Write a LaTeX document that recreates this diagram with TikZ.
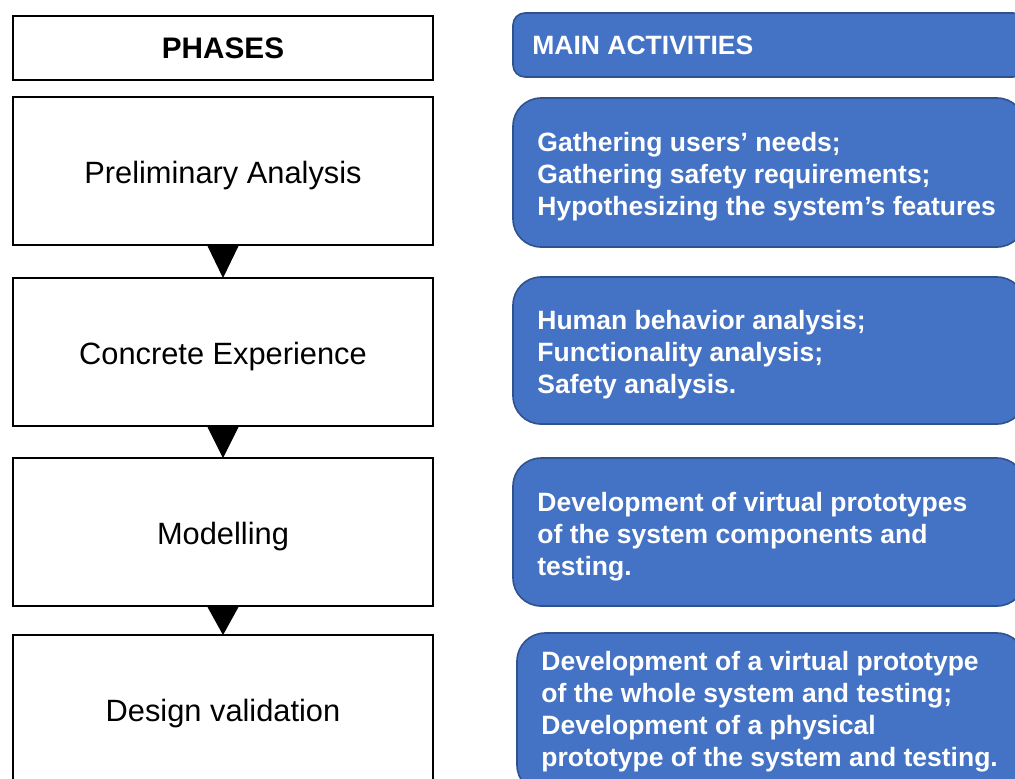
\documentclass[tikz,border=0pt]{standalone}
\usepackage{fontspec}
\setmainfont{Liberation Sans}
\usetikzlibrary{calc}
\definecolor{actfill}{HTML}{4472C4}
\definecolor{actedge}{HTML}{2F528F}
\begin{document}
\begin{tikzpicture}[x=0.5pt,y=-0.5pt,
  phasebox/.style={draw=black,line width=1pt,fill=white,minimum width=210pt,
    inner sep=0pt,outer sep=0pt,font=\fontsize{15.4}{18}\selectfont},
  stepbox/.style={phasebox,minimum height=74pt,text height=15.2pt,text depth=3.2pt},
  actbox/.style={draw=actedge,line width=0.8pt,fill=actfill,anchor=north west,
    inner sep=0pt,outer sep=0pt,rounded corners=14pt},
  acttext/.style={anchor=west,text=white,align=left,inner sep=0pt,
    font=\fontsize{13.25}{16}\selectfont\bfseries},
  flowtip/.style={fill=black}]
\useasboundingbox (0,0) rectangle (1015,778);
\clip (0,0) rectangle (1015,778);

% phase column
\node[phasebox,minimum height=32pt,font=\fontsize{14.85}{18}\selectfont\bfseries] (ph) at (223,48) {PHASES};
\node[stepbox] (p1) at (223,171) {Preliminary Analysis};
\node[stepbox] (p2) at (223,352) {Concrete Experience};
\node[stepbox] (p3) at (223,532) {Modelling};
\node[stepbox] (p4) at (223,709) {Design validation};

% downward triangles between phases
\foreach \a/\b in {p1/p2,p2/p3,p3/p4}{
  \fill[flowtip] ($(\a.south)+(-15.5,1)$) -- ($(\a.south)+(15.5,1)$) -- (\b.north) -- cycle;
}

% activity column
\node[actbox,rounded corners=6pt,minimum width=256pt,minimum height=32pt] (ah) at (513,13) {};
\node[acttext] (aht) at (532,45) {MAIN ACTIVITIES};

\node[actbox,minimum width=256pt,minimum height=74.5pt] (a1) at (513,98) {};
\node[acttext] (a1t) at (537,177) {Gathering users’ needs;\\Gathering safety requirements;\\Hypothesizing the system’s features};

\node[actbox,minimum width=256pt,minimum height=73.5pt] (a2) at (513,277) {};
\node[acttext] (a2t) at (537,355) {Human\ behavior analysis;\\Functionality\ analysis;\\Safety analysis.};

\node[actbox,minimum width=256pt,minimum height=74pt] (a3) at (513,458) {};
\node[acttext] (a3t) at (537,537) {Development of virtual prototypes\\of the system components and\\testing.};

\node[actbox,minimum width=254pt,minimum height=80pt] (a4) at (517,633) {};
\node[acttext] (a4t) at (541,712) {Development of a virtual prototype\\of the whole system and testing;\\Development of a physical\\prototype of the system and testing.};
\end{tikzpicture}
\end{document}
